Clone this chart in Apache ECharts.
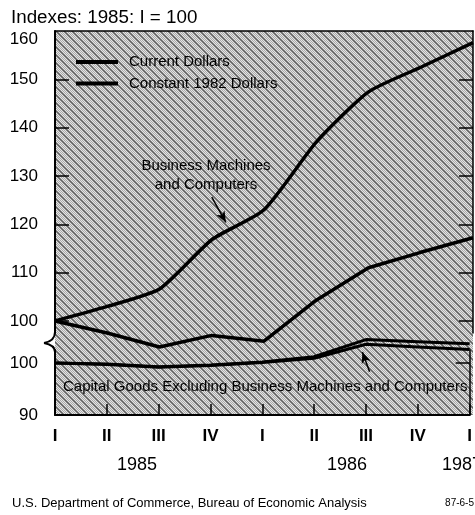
<!DOCTYPE html>
<html>
<head>
<meta charset="utf-8">
<script src="https://cdn.jsdelivr.net/npm/echarts@6/dist/echarts.min.js"></script>
<style>
  html, body { margin: 0; padding: 0; background: #fff; }
  #chart { width: 475px; height: 515px; }
</style>
</head>
<body>
<div id="chart"></div>
<script>
// quarters 1985 I .. 1987 I
const quarters = ["I", "II", "III", "IV", "I", "II", "III", "IV", "I"]
const years = ["1985", "1986", "1987"]
// Business machines and computers (upper panel)
const bmcCurrent = [100, 103, 106.6, 116.8, 123.0, 137.0, 147.4, 152.5, 157.6]
const bmcConstant = [100, 97.5, 94.6, 97.0, 95.8, 104.3, 111.0, 114.2, 117.2]
// Capital goods excluding BMC (lower panel)
const capCurrent = [100, 99.8, 99.3, 99.6, 100.2, 101.2, 104.5, 104.1, 103.7]
const capConstant = [100, 99.7, 99.2, 99.5, 100.1, 100.9, 103.6, 103.1, 102.6]
const upperTicks = [100, 110, 120, 130, 140, 150, 160]
const lowerTicks = [90, 100]
// annotation arrows, in data units
const arrowBMC = [[3.0, 125.6], [3.27, 120.4]]
const arrowCap = [[6.07, 98.3], [5.93, 102.1]]

const narrowOk = (() => {
    const ctx = document.createElement("canvas").getContext("2d")
    ctx.font = "40px monospace"
    const w0 = ctx.measureText("Business Machines").width
    ctx.font = '40px "Liberation Sans Narrow", monospace'
    return ctx.measureText("Business Machines").width !== w0
})()
const NARROW = narrowOk ? '"Liberation Sans Narrow"' : '"Liberation Sans"'
const ns = s => (narrowOk ? s : Math.round(s * 0.84))
const SANS = '"Liberation Sans", Arial, sans-serif'

function makePattern() {
    const c = document.createElement("canvas")
    c.width = 8
    c.height = 8
    const g = c.getContext("2d")
    for (let y = 0; y < 8; y++) {
        for (let x = 0; x < 8; x++) {
            const d = (((x - y) % 8) + 8) % 8
            let col
            if (d < 3) col = (x + y) % 2 ? "#606060" : "#8e8e8e"
            else col = (x + y) % 2 ? "#e4e4e4" : "#a8a8a8"
            g.fillStyle = col
            g.fillRect(x, y, 1, 1)
        }
    }
    return c
}

const pair = arr => arr.map((v, i) => [i, v])
const lineStyle = w => ({ color: "#000", width: w })

const chart = echarts.init(document.getElementById("chart"), null, { renderer: "canvas" })

const xBase = {
    type: "value",
    min: 0,
    max: 8,
    interval: 1,
    splitLine: { show: false },
}
const yTickStyle = { show: true, inside: true, length: 14, lineStyle: { color: "#000", width: 1.5 } }

const option = {
    animation: false,
    backgroundColor: "#fff",
    legend: {
        left: 76,
        top: 52,
        orient: "vertical",
        padding: 0,
        itemGap: 1.5,
        itemWidth: 42,
        itemHeight: 4,
        icon: "rect",
        selectedMode: false,
        data: ["Current Dollars", "Constant 1982 Dollars"],
        textStyle: {
            fontFamily: NARROW,
            fontSize: ns(18),
            lineHeight: 20,
            color: "#000",
            padding: [0, 0, 0, 6],
        },
    },
    grid: [
        { left: 55, top: 31, width: 418, height: 302 },
        { left: 55, top: 350, width: 418, height: 65 },
    ],
    xAxis: [
        {
            ...xBase,
            gridIndex: 0,
            position: "top",
            axisLine: { show: true, lineStyle: { color: "#000", width: 1.5 } },
            axisTick: { show: false },
            axisLabel: { show: false },
        },
        {
            ...xBase,
            gridIndex: 1,
            position: "bottom",
            axisLine: { show: true, lineStyle: { color: "#000", width: 2 } },
            axisTick: { show: true, inside: true, length: 11, lineStyle: { color: "#000", width: 1.5 } },
            axisLabel: {
                margin: 13,
                fontFamily: SANS,
                fontSize: 17,
                fontWeight: "bold",
                color: "#000",
                showMaxLabel: true,
                showMinLabel: true,
                formatter: v => quarters[v] || "",
            },
        },
    ],
    yAxis: [
        {
            gridIndex: 0,
            type: "value",
            min: 97.5,
            max: 160,
            position: "left",
            splitLine: { show: false },
            axisLine: { show: true, onZero: false, lineStyle: { color: "#000", width: 2 } },
            axisTick: { ...yTickStyle, customValues: upperTicks.slice(0, -1) },
            axisLabel: {
                customValues: upperTicks,
                margin: 17,
                fontFamily: SANS,
                fontSize: 17,
                color: "#000",
                formatter: v => (v === 160 ? "{t|160}" : String(v)),
                rich: { t: { fontFamily: SANS, fontSize: 17, color: "#000", padding: [16, 0, 0, 0] } },
            },
        },
        {
            gridIndex: 0,
            type: "value",
            min: 97.5,
            max: 160,
            position: "right",
            splitLine: { show: false },
            axisLine: { show: true, onZero: false, lineStyle: { color: "#000", width: 1.5 } },
            axisTick: { ...yTickStyle, customValues: upperTicks.slice(0, -1) },
            axisLabel: { show: false },
        },
        {
            gridIndex: 1,
            type: "value",
            min: 90,
            max: 102.5,
            position: "left",
            splitLine: { show: false },
            axisLine: { show: true, onZero: false, lineStyle: { color: "#000", width: 2 } },
            axisTick: { ...yTickStyle, customValues: [100] },
            axisLabel: {
                customValues: lowerTicks,
                margin: 17,
                fontFamily: SANS,
                fontSize: 17,
                color: "#000",
            },
        },
        {
            gridIndex: 1,
            type: "value",
            min: 90,
            max: 102.5,
            position: "right",
            splitLine: { show: false },
            axisLine: { show: true, onZero: false, lineStyle: { color: "#000", width: 1.5 } },
            axisTick: { ...yTickStyle, customValues: [100] },
            axisLabel: { show: false },
        },
    ],
    series: [
        {
            name: "Current Dollars",
            type: "line",
            xAxisIndex: 0,
            yAxisIndex: 0,
            data: pair(bmcCurrent),
            showSymbol: false,
            clip: false,
            silent: true,
            smooth: 0.2,
            color: "#000",
            lineStyle: lineStyle(3.5),
            markLine: {
                silent: true,
                symbol: ["none", "arrow"],
                symbolSize: [7, 11],
                label: { show: false },
                lineStyle: { color: "#000", width: 1.5, type: "solid" },
                data: [[{ coord: arrowBMC[0] }, { coord: arrowBMC[1] }]],
            },
        },
        {
            name: "Constant 1982 Dollars",
            type: "line",
            xAxisIndex: 0,
            yAxisIndex: 0,
            data: pair(bmcConstant),
            showSymbol: false,
            clip: false,
            silent: true,
            color: "#000",
            lineStyle: lineStyle(3.5),
        },
        {
            name: "Current Dollars",
            type: "line",
            xAxisIndex: 1,
            yAxisIndex: 2,
            data: pair(capCurrent),
            showSymbol: false,
            clip: false,
            silent: true,
            color: "#000",
            lineStyle: lineStyle(3),
            markLine: {
                silent: true,
                symbol: ["none", "arrow"],
                symbolSize: [7, 11],
                label: { show: false },
                lineStyle: { color: "#000", width: 1.5, type: "solid" },
                data: [[{ coord: arrowCap[0] }, { coord: arrowCap[1] }]],
            },
        },
        {
            name: "Constant 1982 Dollars",
            type: "line",
            xAxisIndex: 1,
            yAxisIndex: 2,
            data: pair(capConstant),
            showSymbol: false,
            clip: false,
            silent: true,
            color: "#000",
            lineStyle: lineStyle(3),
        },
    ],
    graphic: [
        {
            type: "rect",
            z: -10,
            silent: true,
            shape: { x: 55, y: 31, width: 418, height: 384 },
            style: { fill: { image: makePattern(), repeat: "repeat" } },
        },
        // axis break
        {
            type: "bezierCurve",
            z: 10,
            silent: true,
            shape: { x1: 55, y1: 332, cpx1: 55, cpy1: 341, x2: 44, y2: 343 },
            style: { fill: null, stroke: "#000", lineWidth: 2 },
        },
        {
            type: "bezierCurve",
            z: 10,
            silent: true,
            shape: { x1: 44, y1: 343, cpx1: 55, cpy1: 345, x2: 55, y2: 352 },
            style: { fill: null, stroke: "#000", lineWidth: 2 },
        },
        {
            type: "text",
            left: 11,
            top: 8,
            style: { text: "Indexes: 1985: I = 100", fontFamily: SANS, fontSize: 18.8, fill: "#000" },
        },
        {
            type: "text",
            x: 206,
            y: 156,
            style: {
                text: "Business Machines\nand Computers",
                align: "center",
                fontFamily: NARROW,
                fontSize: ns(18),
                lineHeight: 19,
                fill: "#000",
            },
        },
        {
            type: "text",
            x: 63,
            y: 387,
            style: {
                text: "Capital Goods Excluding Business Machines and Computers",
                verticalAlign: "middle",
                fontFamily: NARROW,
                fontSize: ns(18),
                fill: "#000",
            },
        },
        ...years.map((y, i) => ({
            type: "text",
            x: [137, 347, 462][i],
            y: 465,
            style: { text: y, align: "center", verticalAlign: "middle", fontFamily: SANS, fontSize: 18, fill: "#000" },
        })),
        {
            type: "text",
            x: 12,
            y: 503,
            style: {
                text: "U.S. Department of Commerce, Bureau of Economic Analysis",
                verticalAlign: "middle",
                fontFamily: NARROW,
                fontSize: ns(16),
                fill: "#000",
            },
        },
        {
            type: "text",
            x: 474,
            y: 503,
            style: { text: "87-6-5", align: "right", verticalAlign: "middle", fontFamily: NARROW, fontSize: ns(12), fill: "#000" },
        },
    ],
}

chart.setOption(option)
</script>
</body>
</html>
